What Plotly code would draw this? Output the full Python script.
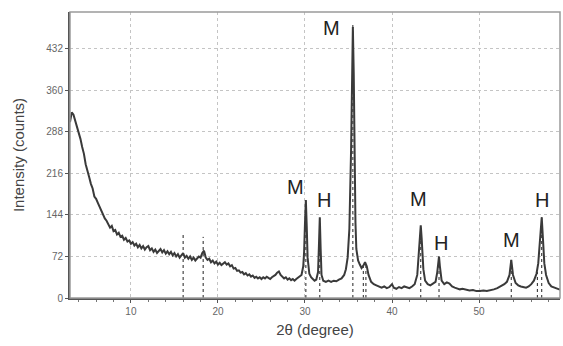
import plotly.graph_objects as go

two_theta = [3.0,3.2,3.4,3.6,3.8,4.0,4.2,4.4,4.6,4.8,5.0,5.2,5.4,5.6,5.8,6.0,6.2,6.4,6.6,6.8,
 7.0,7.2,7.4,7.6,7.8,8.0,8.2,8.4,8.6,8.8,9.0,9.2,9.4,9.6,9.8,10.0,10.2,10.4,10.6,10.8,
 11.0,11.2,11.4,11.6,11.8,12.0,12.2,12.4,12.6,12.8,13.0,13.2,13.4,13.6,13.8,14.0,14.2,14.4,14.6,14.8,
 15.0,15.2,15.4,15.6,15.8,16.0,16.2,16.4,16.6,16.8,17.0,17.2,17.4,17.6,17.8,18.0,18.2,18.4,18.6,18.8,
 19.0,19.2,19.4,19.6,19.8,20.0,20.2,20.4,20.6,20.8,21.0,21.2,21.4,21.6,21.8,22.0,22.2,22.4,22.6,22.8,
 23.0,23.2,23.4,23.6,23.8,24.0,24.2,24.4,24.6,24.8,25.0,25.2,25.4,25.6,25.8,26.0,26.2,26.4,26.6,26.8,
 27.0,27.2,27.4,27.6,27.8,28.0,28.2,28.4,28.6,28.8,29.0,29.2,29.4,29.6,
 29.8,29.9,30.0,30.1,30.2,30.3,30.5,30.7,30.9,31.1,31.3,31.5,31.6,31.7,31.8,31.9,32.1,32.4,32.7,33.0,
 33.3,33.6,33.9,34.2,34.5,34.7,34.9,35.1,35.3,35.4,35.5,35.6,35.7,35.8,35.9,36.1,36.3,36.5,36.7,36.9,
 37.1,37.3,37.6,37.9,38.2,38.5,38.8,39.1,39.4,39.7,40.0,40.2,40.5,40.8,41.1,41.4,41.7,42.0,42.3,42.6,
 42.9,43.1,43.3,43.4,43.6,43.8,44.1,44.4,44.7,45.0,45.2,45.4,45.5,45.7,46.0,46.3,46.6,46.9,47.2,47.5,
 47.8,48.1,48.5,48.9,49.3,49.7,50.1,50.5,50.9,51.3,51.7,52.1,52.5,52.9,53.2,53.5,53.7,53.9,54.2,54.5,
 54.8,55.1,55.4,55.7,56.0,56.3,56.6,56.8,57.0,57.2,57.35,57.5,57.7,58.0,58.3,58.6,58.9,59.2,59.5]

counts = [305,322,318,308,296,288,276,262,250,232,218,210,198,190,176,172,165,158,150,146,
 138,134,128,122,125,116,118,110,113,106,108,101,104,98,100,94,97,91,94,88,
 92,86,90,84,88,90,83,86,80,84,78,82,85,79,83,77,81,76,80,74,
 78,72,76,70,74,78,70,73,68,72,66,70,65,69,72,70,78,82,70,66,
 68,62,65,60,63,58,61,57,60,62,58,60,55,57,51,52,47,48,44,45,
 41,43,39,41,37,39,35,37,34,36,33,36,34,37,35,33,36,38,40,44,
 46,40,37,34,36,32,34,31,33,30,33,35,38,40,
 55,80,130,170,125,70,42,36,33,30,32,45,90,140,85,40,30,28,30,28,
 30,29,32,34,40,50,70,120,260,400,470,390,240,130,85,65,58,52,56,62,
 55,40,28,24,22,20,18,20,17,19,24,18,16,19,17,20,18,17,20,24,
 40,80,126,105,50,30,24,22,25,28,45,72,55,30,24,27,25,20,18,17,
 15,16,14,13,14,12,12,13,12,13,15,17,20,24,28,40,66,40,26,22,
 20,19,18,20,24,30,42,60,95,140,100,60,40,26,20,18,16,15,14]

stick_pos = [16.0, 18.3, 30.1, 31.7, 35.5, 36.7, 37.0, 43.3, 45.4, 53.7, 56.7, 57.2]
stick_h = [114, 106, 168, 138, 478, 55, 62, 124, 62, 66, 45, 140]

label_text = ["M", "M", "H", "M", "H", "M", "H"]
label_x = [33.0, 28.9, 32.2, 43.0, 45.6, 53.7, 57.2]
label_y = [469, 193, 170, 172, 95, 101, 170]

y_ticks = [0, 72, 144, 216, 288, 360, 432]
x_ticks = [10, 20, 30, 40, 50]

sx, sy = [], []
for p, h in zip(stick_pos, stick_h):
    sx += [p, p, None]
    sy += [0, h, None]

fig = go.Figure()
fig.add_trace(go.Scatter(x=sx, y=sy, mode="lines",
                         line=dict(color="#222222", width=1, dash="dot"),
                         hoverinfo="skip", showlegend=False))
fig.add_trace(go.Scatter(x=two_theta, y=counts, mode="lines",
                         line=dict(color="#3a3a3a", width=2),
                         showlegend=False))

for t, x, y in zip(label_text, label_x, label_y):
    fig.add_annotation(x=x, y=y, text=t, showarrow=False,
                       font=dict(family="Liberation Sans, Arial", size=20, color="#222222"))

fig.update_layout(
    width=563, height=346,
    margin=dict(l=70, r=3, t=12, b=48),
    paper_bgcolor="white", plot_bgcolor="white",
    font=dict(family="Liberation Sans, Arial", color="#555555"),
    xaxis=dict(range=[3, 59.3], tickvals=x_ticks, showgrid=True, automargin=False,
               gridcolor="#c4c4c4", griddash="dot", gridwidth=1,
               ticks="outside", ticklen=3, tickcolor="#555555",
               minor=dict(dtick=2, ticks="outside", ticklen=2, tickcolor="#777777"),
               showline=True, linecolor="#555555", linewidth=2, mirror=False,
               zeroline=False, tickfont=dict(size=10, color="#666666"),
               title=dict(text="2θ (degree)", font=dict(size=15, color="#444444"), standoff=8)),
    yaxis=dict(range=[0, 496], tickvals=y_ticks, showgrid=True, automargin=False,
               gridcolor="#c4c4c4", griddash="dot", gridwidth=1,
               ticks="outside", ticklen=3, tickcolor="#555555",
               showline=True, linecolor="#555555", linewidth=2,
               zeroline=False, tickfont=dict(size=10, color="#666666"),
               title=dict(text="Intensity (counts)", font=dict(size=15, color="#444444"), standoff=18)),
)
fig.add_shape(type="rect", xref="paper", yref="paper", x0=0, y0=0, x1=1, y1=1,
              line=dict(color="#9a9a9a", width=1.5))

fig.write_html("out.html", config={"displayModeBar": False},
               post_script="document.body.style.margin='0';document.body.style.overflow='hidden';")
